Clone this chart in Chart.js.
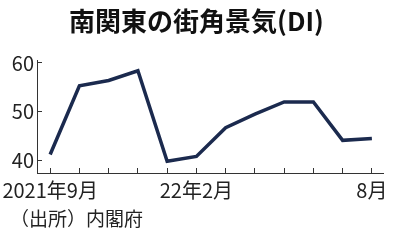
<!DOCTYPE html>
<html>
<head>
<meta charset="utf-8">
<script src="https://cdn.jsdelivr.net/npm/chart.js@4"></script>
<style>
  html, body { margin: 0; padding: 0; background: #fff; }
  #wrap { position: relative; width: 395px; height: 244px; overflow: hidden; }
  #chart { position: absolute; left: 0; top: 0; }
  #title {
    position: absolute; left: 0; top: 7px; width: 393px; text-align: center;
    font: bold 26px/26px "Noto Sans CJK JP", sans-serif; color: #111;
  }
  #source {
    position: absolute; left: 10px; top: 207px;
    font: 19px/22px "Noto Sans CJK JP", sans-serif; color: #222;
  }
</style>
</head>
<body>
<div id="wrap">
  <canvas id="chart" width="395" height="244"></canvas>
  <div id="title">南関東の街角景気(DI)</div>
  <div id="source">（出所）内閣府</div>
</div>
<script>
// months from 2021/9 to 2022/8
const months = ['2021-09', '2021-10', '2021-11', '2021-12', '2022-01', '2022-02',
                '2022-03', '2022-04', '2022-05', '2022-06', '2022-07', '2022-08'];
const monthLabels = ['2021年9月', '', '', '', '', '22年2月', '', '', '', '', '', '8月'];
const diValues = [41.2, 55.3, 56.4, 58.4, 39.8, 40.8, 46.7, 49.5, 52.0, 52.0, 44.1, 44.5];
const yTicks = [40, 50, 60];

const tickFont = { family: '"Liberation Sans Narrow", "Noto Sans CJK JP", sans-serif', size: 20, lineHeight: 1.2 };

let ctx = document.getElementById('chart').getContext('2d');

let myChart = new Chart(ctx, {
  type: 'line',
  data: {
    datasets: [{
      data: diValues.map((v, i) => ({ x: i, y: v })),
      borderColor: '#1b2a4e',
      borderWidth: 3.5,
      pointRadius: 0,
      tension: 0,
      fill: false
    }]
  },
  options: {
    responsive: false,
    animation: false,
    events: [],
    layout: { padding: { left: 0, right: 12, top: 60, bottom: 41 } },
    plugins: { legend: { display: false }, tooltip: { enabled: false } },
    scales: {
      x: {
        type: 'linear',
        min: -0.45,
        max: 11.38,
        afterBuildTicks: (s) => { s.ticks = months.map((m, i) => ({ value: i })); },
        // keep the plot area fixed, labels may hang over the edges
        afterFit: (s) => { s.height = 30; s.paddingLeft = 0; s.paddingRight = 0; },
        grid: { drawOnChartArea: false, drawTicks: true, tickLength: -5, color: '#333', lineWidth: 1 },
        border: { display: true, color: '#333', width: 1 },
        ticks: {
          autoSkip: false,
          maxRotation: 0,
          padding: 10,
          color: '#222',
          font: tickFont,
          callback: (v) => monthLabels[v]
        }
      },
      y: {
        min: 37.4,
        max: 60.6,
        afterBuildTicks: (s) => { s.ticks = yTicks.map(v => ({ value: v })); },
        afterFit: (s) => { s.width = 37; s.paddingTop = 0; s.paddingBottom = 0; },
        grid: { drawOnChartArea: false, drawTicks: true, tickLength: -5, color: '#333', lineWidth: 1 },
        border: { display: true, color: '#333', width: 1 },
        ticks: { padding: 8, color: '#222', font: tickFont }
      }
    }
  }
});
</script>
</body>
</html>
